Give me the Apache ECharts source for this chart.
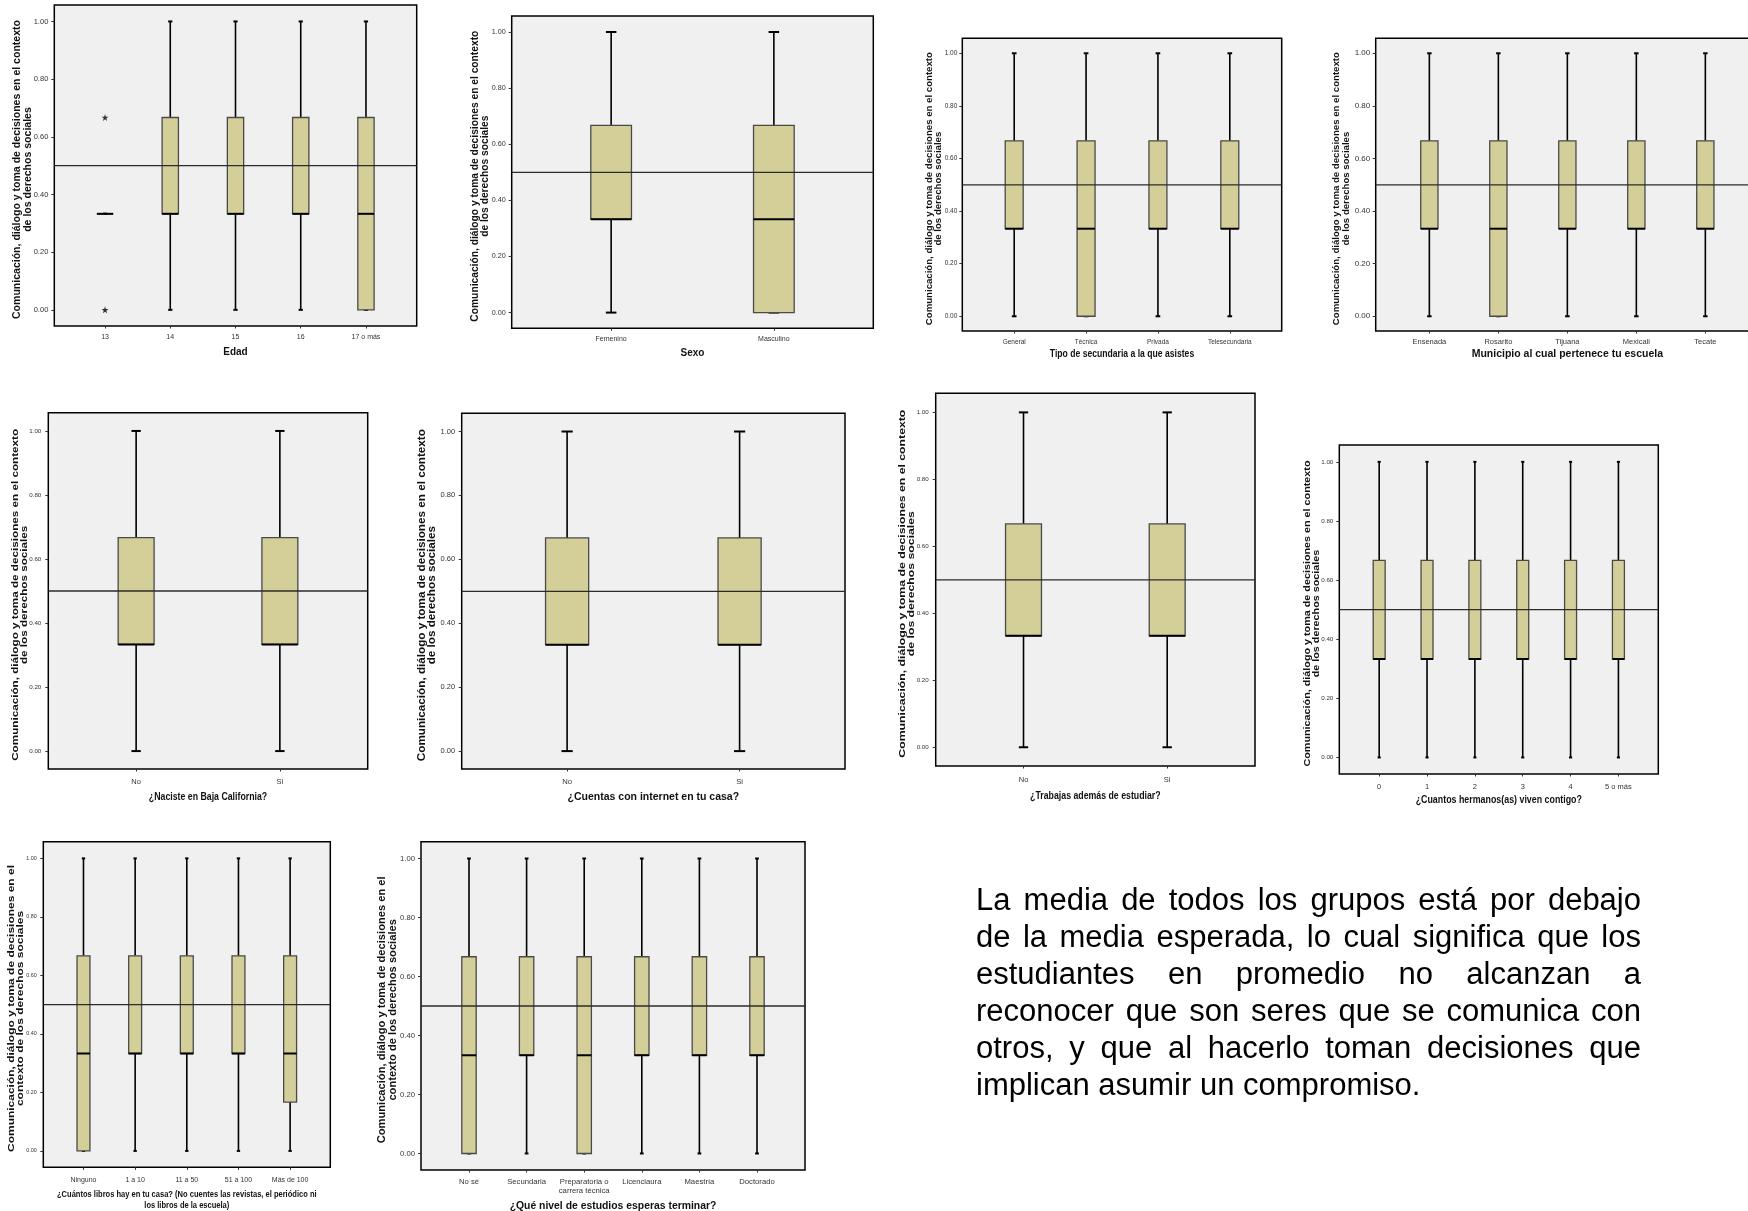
<!DOCTYPE html>
<html>
<head>
<meta charset="utf-8">
<script src="https://cdn.jsdelivr.net/npm/echarts@6/dist/echarts.min.js"></script>
<style>
html,body{margin:0;padding:0;background:#ffffff;}
#chart{position:absolute;left:0;top:0;width:1748px;height:1211px;}
#note{position:absolute;left:976px;top:881px;width:665px;font-family:"Liberation Sans",Arial,sans-serif;font-size:31px;line-height:37px;color:#000;}
#note div{text-align:justify;text-align-last:justify;white-space:nowrap;}
#note div.last{text-align:left;text-align-last:left;}
</style>
</head>
<body>
<div id="chart"></div>
<div id="note"></div>
<script>
// ---------------- DATA ----------------
const yTicks = [0.0, 0.2, 0.4, 0.6, 0.8, 1.0];
const expectedMean = 0.5;
const yTitleA = 'Comunicación, diálogo y toma de decisiones en el contexto\nde los derechos sociales';
const yTitleB = 'Comunicación, diálogo y toma de decisiones en el\ncontexto de los derechos sociales';

// each box: [min, Q1, mediana, Q3, max]
const edadCategories = ['13', '14', '15', '16', '17 o más'];
const edadBoxes = [
  [0.333, 0.333, 0.333, 0.333, 0.333],
  [0, 0.333, 0.333, 0.667, 1],
  [0, 0.333, 0.333, 0.667, 1],
  [0, 0.333, 0.333, 0.667, 1],
  [0, 0, 0.333, 0.667, 1]
];
const edadOutliers = [[0, 0.667], [0, 0]];

const sexoCategories = ['Femenino', 'Masculino'];
const sexoBoxes = [
  [0, 0.333, 0.333, 0.667, 1],
  [0, 0, 0.333, 0.667, 1]
];

const secundariaCategories = ['General', 'Técnica', 'Privada', 'Telesecundaria'];
const secundariaBoxes = [
  [0, 0.333, 0.333, 0.667, 1],
  [0, 0, 0.333, 0.667, 1],
  [0, 0.333, 0.333, 0.667, 1],
  [0, 0.333, 0.333, 0.667, 1]
];

const municipioCategories = ['Ensenada', 'Rosarito', 'Tijuana', 'Mexicali', 'Tecate'];
const municipioBoxes = [
  [0, 0.333, 0.333, 0.667, 1],
  [0, 0, 0.333, 0.667, 1],
  [0, 0.333, 0.333, 0.667, 1],
  [0, 0.333, 0.333, 0.667, 1],
  [0, 0.333, 0.333, 0.667, 1]
];

const nacisteCategories = ['No', 'Si'];
const nacisteBoxes = [
  [0, 0.333, 0.333, 0.667, 1],
  [0, 0.333, 0.333, 0.667, 1]
];

const internetCategories = ['No', 'Si'];
const internetBoxes = [
  [0, 0.333, 0.333, 0.667, 1],
  [0, 0.333, 0.333, 0.667, 1]
];

const trabajasCategories = ['No', 'Si'];
const trabajasBoxes = [
  [0, 0.333, 0.333, 0.667, 1],
  [0, 0.333, 0.333, 0.667, 1]
];

const hermanosCategories = ['0', '1', '2', '3', '4', '5 o más'];
const hermanosBoxes = [
  [0, 0.333, 0.333, 0.667, 1],
  [0, 0.333, 0.333, 0.667, 1],
  [0, 0.333, 0.333, 0.667, 1],
  [0, 0.333, 0.333, 0.667, 1],
  [0, 0.333, 0.333, 0.667, 1],
  [0, 0.333, 0.333, 0.667, 1]
];

const librosCategories = ['Ninguno', '1 a 10', '11 a 50', '51 a 100', 'Más de 100'];
const librosBoxes = [
  [0, 0, 0.333, 0.667, 1],
  [0, 0.333, 0.333, 0.667, 1],
  [0, 0.333, 0.333, 0.667, 1],
  [0, 0.333, 0.333, 0.667, 1],
  [0, 0.167, 0.333, 0.667, 1]
];

const estudiosCategories = ['No sé', 'Secundaria', 'Preparatoria o\ncarrera técnica', 'Licenciaura', 'Maestría', 'Doctorado'];
const estudiosBoxes = [
  [0, 0, 0.333, 0.667, 1],
  [0, 0.333, 0.333, 0.667, 1],
  [0, 0, 0.333, 0.667, 1],
  [0, 0.333, 0.333, 0.667, 1],
  [0, 0.333, 0.333, 0.667, 1],
  [0, 0.333, 0.333, 0.667, 1]
];

const noteLines = [
  'La media de todos los grupos está por debajo',
  'de la media esperada, lo cual significa que los',
  'estudiantes en promedio no alcanzan a',
  'reconocer que son seres que se comunica con',
  'otros, y que al hacerlo toman decisiones que',
  'implican asumir un compromiso.'
];

// ---------------- LAYOUT / STYLE ----------------
const REG = '"Liberation Sans", Arial, sans-serif';

// rect: [left, top, width, height]; yName: [line1 x, line2 x, target length, fontSize]
const panels = [
  {cats: edadCategories, boxes: edadBoxes, outliers: edadOutliers, xTitle: 'Edad', yTitle: yTitleA,
   rect: [54.3, 5, 362.4, 321], yl: 7.5, xl: 7, xt: 10, xtS: 1, xGap: 20, xM: 7, yM: 6, yName: [17.3, 28.3, 299, 10.5]},
  {cats: sexoCategories, boxes: sexoBoxes, xTitle: 'Sexo', yTitle: yTitleA,
   rect: [511.7, 16, 361.6, 312.3], yl: 7.2, xl: 7, xt: 10, xtS: 1, xGap: 19, xM: 6.5, yM: 6, yName: [475, 485, 291, 10]},
  {cats: secundariaCategories, boxes: secundariaBoxes, xTitle: 'Tipo de secundaria a la que asistes', yTitle: yTitleA,
   rect: [962.3, 38.3, 319.4, 292.7], yl: 6.5, xl: 6.5, xt: 10.5, xtS: 0.82, xGap: 17.5, xM: 7, yM: 5, yName: [929.5, 938.8, 273, 9.5]},
  {cats: municipioCategories, boxes: municipioBoxes, xTitle: 'Municipio al cual pertenece tu escuela', yTitle: yTitleA,
   rect: [1375.7, 38.3, 383.3, 292.7], yl: 8, xl: 7.5, xt: 10.5, xtS: 1, xGap: 17, xM: 6, yM: 5.5, yName: [1336.2, 1346.2, 273, 9.6]},
  {cats: nacisteCategories, boxes: nacisteBoxes, xTitle: '¿Naciste en Baja California?', yTitle: yTitleA,
   rect: [48.3, 412.7, 319.4, 356.3], yl: 6.2, xl: 7.5, xt: 10.7, xtS: 0.82, xGap: 21.5, xM: 8, yM: 7, yName: [15, 24, 332, 9.3]},
  {cats: internetCategories, boxes: internetBoxes, xTitle: '¿Cuentas con internet en tu casa?', yTitle: yTitleA,
   rect: [461.7, 413.3, 383.3, 355.7], yl: 7.5, xl: 7.7, xt: 10.5, xtS: 1, xGap: 22, xM: 8, yM: 6.5, yName: [422, 432, 332, 10]},
  {cats: trabajasCategories, boxes: trabajasBoxes, xTitle: '¿Trabajas además de estudiar?', yTitle: yTitleA,
   rect: [935.7, 393.3, 319.3, 372.7], yl: 6.2, xl: 7.5, xt: 10.7, xtS: 0.82, xGap: 24, xM: 9, yM: 7, yName: [902, 911.4, 348, 9.6]},
  {cats: hermanosCategories, boxes: hermanosBoxes, xTitle: '¿Cuantos hermanos(as) viven contigo?', yTitle: yTitleA,
   rect: [1339.3, 445, 319, 329], yl: 6.2, xl: 7.5, xt: 10.8, xtS: 0.82, xGap: 20, xM: 8, yM: 6, yName: [1307.3, 1316.7, 306, 9.6]},
  {cats: librosCategories, boxes: librosBoxes, xTitle: '¿Cuántos libros hay en tu casa? (No cuentes las revistas, el periódico ni\nlos libros de la escuela)', yTitle: yTitleB,
   rect: [43.3, 841.7, 287, 325.6], yl: 5.4, xl: 7, xt: 9.2, xtS: 0.82, xtLH: 11.5, xGap: 21, xM: 9, yM: 6.5, yName: [12, 20.3, 287, 8.8]},
  {cats: estudiosCategories, boxes: estudiosBoxes, xTitle: '¿Qué nivel de estudios esperas terminar?', yTitle: yTitleB,
   rect: [421, 841.7, 384, 328.3], yl: 7.7, xl: 7.7, xt: 10.4, xtS: 1, xGap: 30, xM: 7, yM: 6, yName: [382.2, 392.8, 267, 10]}
];

const Y_MIN = -0.056, Y_MAX = 1.057;
const BOX_FILL = '#D4CF99';

function renderBox(params, api) {
  const x = api.value(0);
  const lo = api.value(1), q1 = api.value(2), med = api.value(3), q3 = api.value(4), hi = api.value(5);
  const unit = api.size([1, 0])[0];
  const bw = unit * 0.25, half = bw / 2, cap = bw * 0.13;
  const pLo = api.coord([x, lo]), pQ1 = api.coord([x, q1]), pMed = api.coord([x, med]);
  const pQ3 = api.coord([x, q3]), pHi = api.coord([x, hi]);
  const cx = pLo[0];
  const ws = {stroke: '#000', lineWidth: 1.6};
  const cs = {stroke: '#000', lineWidth: 2};
  return {
    type: 'group',
    children: [
      {type: 'line', shape: {x1: cx, y1: pHi[1], x2: cx, y2: pQ3[1]}, style: ws},
      {type: 'line', shape: {x1: cx, y1: pQ1[1], x2: cx, y2: pLo[1]}, style: ws},
      {type: 'line', shape: {x1: cx - cap, y1: pHi[1], x2: cx + cap, y2: pHi[1]}, style: cs},
      {type: 'line', shape: {x1: cx - cap, y1: pLo[1], x2: cx + cap, y2: pLo[1]}, style: cs},
      {type: 'rect', shape: {x: cx - half, y: pQ3[1], width: bw, height: pQ1[1] - pQ3[1]},
       style: {fill: BOX_FILL, stroke: '#4a4a4a', lineWidth: 1.3}},
      {type: 'line', shape: {x1: cx - half, y1: pMed[1], x2: cx + half, y2: pMed[1]}, style: {stroke: '#000', lineWidth: 2}}
    ]
  };
}

const measureCtx = document.createElement('canvas').getContext('2d');
function textWidth(str, fs) {
  measureCtx.font = 'bold ' + fs + 'px "Liberation Sans", Arial, sans-serif';
  return measureCtx.measureText(str).width;
}

const grids = [], xAxes = [], yAxes = [], series = [], graphics = [];
panels.forEach((p, i) => {
  const n = p.cats.length;
  const pad = (n / 9 + 1) / 2;
  const xMin = -pad, xMax = n - 1 + pad;
  const idx = p.cats.map((c, k) => k);
  const [gl, gt, gw, gh] = p.rect;
  grids.push({
    left: gl, top: gt, width: gw, height: gh,
    show: true, backgroundColor: '#F0F0F0', borderColor: '#000', borderWidth: 1.5,
    containLabel: false, outerBoundsMode: 'none'
  });
  xAxes.push({
    type: 'value', gridIndex: i, min: xMin, max: xMax, z: 5,
    axisLine: {show: false, onZero: false},
    axisTick: {show: true, length: 2.5, customValues: idx, lineStyle: {color: '#333', width: 1}},
    axisLabel: {customValues: idx, formatter: v => p.cats[Math.round(v)], fontSize: p.xl, fontFamily: REG,
                color: '#333', margin: p.xM, lineHeight: p.xl + 1.5},
    splitLine: {show: false}
  });
  yAxes.push({
    type: 'value', gridIndex: i, min: Y_MIN, max: Y_MAX, z: 5,
    axisLine: {show: false, onZero: false},
    axisTick: {show: true, length: 3, customValues: yTicks, lineStyle: {color: '#333', width: 1}},
    axisLabel: {customValues: yTicks, formatter: v => v.toFixed(2), fontSize: p.yl, fontFamily: REG,
                color: '#333', margin: p.yM},
    splitLine: {show: false}
  });
  series.push({
    type: 'custom', xAxisIndex: i, yAxisIndex: i, z: 2, silent: true,
    renderItem: renderBox,
    encode: {x: 0, y: [1, 2, 3, 4, 5]},
    data: p.boxes.map((b, k) => [k].concat(b))
  });
  if (p.outliers) {
    series.push({
      type: 'scatter', xAxisIndex: i, yAxisIndex: i, z: 4, silent: true,
      symbol: 'path://M50,0 L61,35 L98,35 L68,57 L79,91 L50,70 L21,91 L32,57 L2,35 L39,35 Z',
      symbolSize: 7, itemStyle: {color: '#000'},
      data: p.outliers
    });
  }
  series.push({
    type: 'line', xAxisIndex: i, yAxisIndex: i, z: 3, silent: true,
    showSymbol: false, symbol: 'none',
    lineStyle: {color: '#2b2b2b', width: 1.3},
    data: [[xMin, expectedMean], [xMax, expectedMean]]
  });

  // rotated y-axis title (stretched along its length like the reference)
  const [l1, l2, targetLen, fs] = p.yName;
  const firstLine = p.yTitle.split('\n')[0];
  const s = targetLen / textWidth(firstLine, fs);
  graphics.push({
    type: 'text', x: (l1 + l2) / 2, y: gt + gh / 2 + 4, rotation: Math.PI / 2, scaleX: s, z: 1, silent: true,
    style: {text: p.yTitle, fontSize: fs, fontWeight: 'bold', fontFamily: REG, lineHeight: l2 - l1,
            align: 'center', verticalAlign: 'middle', fill: '#111'}
  });
  // x-axis title
  graphics.push({
    type: 'text', x: gl + gw / 2, y: gt + gh + p.xGap, scaleX: p.xtS, z: 1, silent: true,
    style: {text: p.xTitle, fontSize: p.xt, fontWeight: 'bold', fontFamily: REG, lineHeight: p.xtLH || p.xt + 1.5,
            align: 'center', verticalAlign: 'top', fill: '#111'}
  });
});

const chart = echarts.init(document.getElementById('chart'), null, {renderer: 'canvas', width: 1748, height: 1211});
chart.setOption({
  animation: false,
  backgroundColor: '#ffffff',
  grid: grids,
  xAxis: xAxes,
  yAxis: yAxes,
  series: series,
  graphic: graphics
});

const note = document.getElementById('note');
noteLines.forEach((t, k) => {
  const d = document.createElement('div');
  d.textContent = t;
  if (k === noteLines.length - 1) d.className = 'last';
  note.appendChild(d);
});
</script>
</body>
</html>
